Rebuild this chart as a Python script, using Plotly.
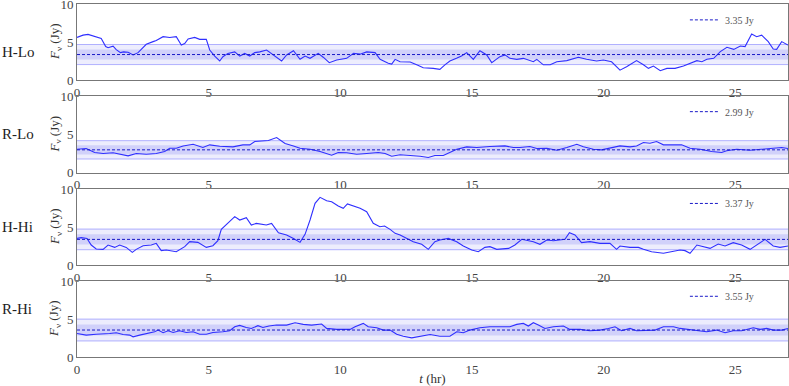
import plotly.graph_objects as go
from plotly.subplots import make_subplots

labels = ["H-Lo", "R-Lo", "H-Hi", "R-Hi"]
means = [3.35, 2.99, 3.37, 3.55]
sigmas = [0.66, 0.60, 0.68, 0.72]

t_hlo = [0, 0.23, 0.42, 0.61, 0.73, 0.92, 1.09, 1.18, 1.37, 1.49, 1.65, 1.77, 1.94, 2.13, 2.32,
         2.63, 2.89, 3.01, 3.27, 3.52, 3.77, 3.96, 4.09, 4.22, 4.47, 4.66, 4.91, 5.04, 5.23, 5.42,
         5.54, 5.73, 5.99, 6.18, 6.37, 6.56, 6.75, 6.94, 7.2, 7.52, 7.77, 7.96, 8.22, 8.47, 8.66,
         8.85, 9.04, 9.16, 9.35, 9.58, 9.86, 10.24, 10.5, 10.75, 11.0, 11.32, 11.51, 11.82, 11.95,
         12.08, 12.27, 12.65, 12.9, 13.15, 13.53, 13.78, 13.97, 14.16, 14.41, 14.6, 14.8, 15.05,
         15.3, 15.56, 15.75, 16.06, 16.25, 16.44, 16.7, 16.95, 17.33, 17.46, 17.71, 17.97, 18.22,
         18.6, 19.04, 19.35, 19.73, 19.99, 20.3, 20.62, 20.87, 21.25, 21.51, 21.7, 21.89, 22.15,
         22.4, 22.71, 23.03, 23.28, 23.54, 23.73, 23.92, 24.18, 24.43, 24.68, 24.94, 25.19, 25.37,
         25.62, 25.81, 26.0, 26.25, 26.44, 26.57, 26.76, 27.0]
f_hlo = [5.6, 5.9, 6.0, 5.8, 5.6, 5.45, 4.4, 4.25, 4.45, 4.0, 3.6, 3.7, 3.65, 3.3, 3.6,
         4.7, 5.05, 5.2, 5.7, 5.6, 5.7, 4.6, 4.8, 5.4, 5.6, 5.35, 5.35, 3.95, 3.15, 2.5,
         3.07, 3.5, 3.7, 3.15, 3.5, 3.15, 3.6, 3.7, 3.95, 3.07, 2.5, 3.3, 3.86, 2.72, 3.15,
         2.85, 3.3, 3.5, 3.0, 2.28, 2.63, 2.85, 3.5, 3.4, 3.7, 3.6, 2.72, 2.2, 2.1,
         2.72, 2.4, 2.37, 2.0, 1.62, 1.53, 1.4, 2.0, 2.5, 2.85, 3.15, 3.6, 2.72,
         3.86, 3.3, 2.28, 3.07, 3.3, 2.85, 2.72, 2.85, 2.4, 2.72, 2.0, 2.0, 2.4,
         2.55, 3.0, 2.72, 2.5, 2.63, 2.4, 1.3, 1.75, 2.55, 2.0, 1.53, 1.84, 1.23,
         1.53, 1.53, 1.84, 2.2, 2.55, 2.4, 2.72, 2.85, 3.73, 4.3, 4.03, 4.47, 4.4,
         6.05, 5.7, 5.9, 5.05, 4.08, 4.03, 5.05, 4.6]

t_rlo = [0, 0.35, 0.67, 0.99, 1.37, 1.68, 1.94, 2.25, 2.63, 3.01, 3.33, 3.52, 3.77, 4.03, 4.41,
         4.78, 5.04, 5.42, 5.92, 6.3, 6.56, 6.75, 7.0, 7.27, 7.58, 7.9, 8.22, 8.47, 8.85, 9.23,
         9.67, 9.92, 10.24, 10.62, 11.0, 11.44, 11.7, 11.95, 12.27, 12.65, 13.03, 13.34, 13.59,
         13.91, 14.16, 14.42, 14.8, 15.18, 15.68, 16.25, 16.57, 16.82, 17.2, 17.46, 17.84, 18.22,
         18.6, 18.98, 19.23, 19.61, 19.92, 20.24, 20.62, 21.0, 21.25, 21.51, 21.76, 22.01, 22.27,
         22.65, 22.96, 23.28, 23.66, 24.1, 24.48, 24.67, 25.05, 25.56, 25.94, 26.44, 26.76, 27.0]
f_rlo = [3.07, 3.16, 2.64, 2.51, 2.6, 2.42, 2.2, 2.51, 2.42, 2.51, 2.77, 3.2, 3.2, 3.5, 3.72,
         3.29, 3.64, 3.46, 3.38, 3.64, 3.64, 4.07, 4.1, 4.2, 4.59, 3.81, 3.5, 3.2, 3.07, 2.77,
         2.29, 2.64, 2.6, 2.42, 2.51, 2.64, 2.51, 2.16, 2.34, 2.29, 2.16, 1.99, 2.25,
         2.25, 2.64, 3.07, 3.38, 3.29, 3.42, 3.5, 3.29, 3.29, 3.42, 3.16, 3.2, 2.94,
         3.29, 3.72, 3.38, 3.07, 2.99, 3.2, 3.5, 3.38, 3.5, 3.94, 3.85, 4.07, 3.64,
         3.64, 3.64, 3.2, 3.07, 2.77, 2.64, 2.86, 3.07, 2.94, 3.07, 3.16, 3.29, 3.16]

t_hhi = [0, 0.16, 0.38, 0.54, 0.73, 0.99, 1.18, 1.43, 1.62, 1.87, 2.1, 2.25, 2.51, 2.82, 3.01,
         3.2, 3.39, 3.58, 3.77, 4.09, 4.28, 4.59, 4.91, 5.16, 5.35, 5.48, 5.8, 5.99, 6.18, 6.43,
         6.62, 6.81, 7.19, 7.39, 7.65, 7.96, 8.22, 8.47, 8.66, 8.85, 9.04, 9.23, 9.48, 9.67, 9.92,
         10.11, 10.27, 10.49, 10.75, 11.0, 11.25, 11.5, 11.68, 11.89, 12.08, 12.27, 12.52, 12.77,
         13.09, 13.34, 13.59, 13.78, 14.1, 14.42, 14.67, 14.99, 15.24, 15.49, 15.68, 15.94, 16.39,
         16.63, 16.89, 17.14, 17.33, 17.58, 17.84, 18.09, 18.34, 18.53, 18.7, 18.91, 19.16, 19.48,
         19.86, 20.24, 20.49, 20.62, 21.0, 21.32, 21.51, 21.82, 22.27, 22.65, 22.9, 23.09, 23.28,
         23.54, 24.04, 24.35, 24.61, 24.92, 25.24, 25.56, 25.81, 26.13, 26.44, 26.7, 27.0]
f_hhi = [3.5, 3.6, 3.5, 2.63, 2.1, 2.06, 2.63, 2.32, 2.63, 2.32, 1.67, 2.06, 2.54, 2.63, 2.85,
         1.89, 1.97, 1.89, 1.75, 2.41, 3.07, 2.98, 2.32, 2.54, 3.2, 4.69, 5.7, 6.36, 5.92, 6.23,
         5.26, 5.48, 5.26, 5.48, 4.25, 3.95, 3.5, 2.98, 4.03, 5.92, 8.11, 8.9, 8.46, 8.33, 7.76,
         7.46, 8.03, 7.76, 7.46, 7.02, 5.48, 5.04, 5.13, 4.69, 4.17, 3.95, 3.5, 3.07,
         2.72, 2.06, 3.07, 3.29, 3.5, 3.07, 2.5, 1.97, 1.75, 2.32, 2.41, 2.06, 2.19,
         2.63, 3.38, 3.2, 3.07, 2.72, 3.29, 3.2, 3.29, 3.38, 4.25, 3.95, 2.94, 3.07,
         2.85, 2.85, 2.06, 2.5, 2.32, 2.32, 2.06, 1.75, 1.54, 1.75, 1.97, 1.89, 1.54,
         2.63, 2.19, 2.76, 2.5, 2.94, 2.63, 2.06, 2.63, 3.38, 2.5, 2.32, 2.5]

t_rhi = [0, 0.35, 0.73, 0.99, 1.24, 1.49, 1.75, 2.0, 2.13, 2.38, 2.7, 2.95, 3.08, 3.27, 3.46,
         3.65, 3.9, 4.15, 4.41, 4.66, 4.91, 5.16, 5.54, 5.8, 5.99, 6.18, 6.43, 6.62, 6.87, 7.06,
         7.29, 7.58, 7.96, 8.28, 8.59, 8.91, 9.29, 9.48, 9.86, 10.37, 10.56, 10.87, 11.06, 11.38,
         11.63, 11.89, 12.14, 12.39, 12.71, 13.03, 13.41, 13.78, 14.16, 14.42, 14.67, 14.92, 15.3,
         15.68, 16.06, 16.44, 16.7, 16.95, 17.14, 17.33, 17.52, 17.77, 18.09, 18.47, 18.72, 19.1,
         19.48, 19.86, 20.18, 20.43, 20.68, 21.0, 21.25, 21.63, 21.95, 22.27, 22.65, 22.9, 23.22,
         23.54, 23.91, 24.29, 24.61, 24.92, 25.24, 25.68, 25.94, 26.19, 26.44, 26.76, 27.0]
f_rhi = [3.1, 2.88, 3.0, 3.1, 3.1, 3.19, 2.96, 2.88, 2.65, 2.88, 3.1, 3.32, 3.54, 3.19, 3.45,
         3.23, 3.45, 3.23, 3.32, 3.0, 3.0, 3.23, 3.32, 3.45, 3.98, 4.16, 3.89, 3.76, 4.12, 3.89,
         4.07, 4.2, 4.2, 4.51, 4.29, 4.2, 4.34, 3.76, 3.63, 3.63, 3.98, 4.42, 3.98, 3.85,
         3.54, 3.54, 3.0, 2.74, 2.52, 2.74, 2.96, 2.74, 2.74, 3.32, 3.19, 3.54, 3.85,
         3.98, 3.98, 3.98, 4.29, 4.42, 4.07, 4.51, 4.2, 3.76, 3.98, 4.07, 3.63, 3.63,
         3.45, 3.54, 3.76, 3.98, 3.45, 3.76, 3.45, 3.54, 3.54, 3.98, 3.98, 3.76, 3.63,
         3.54, 3.32, 3.54, 3.19, 3.45, 3.45, 3.85, 3.63, 3.76, 3.54, 3.54, 3.76]

times = [t_hlo, t_rlo, t_hhi, t_rhi]
fluxes = [f_hlo, f_rlo, f_hhi, f_rhi]

t_span = [0, 27]
x_ticks = [0, 5, 10, 15, 20, 25]
y_ticks = [0, 5, 10]

# panel placement (paper coords)
domains = [(0.7847, 1.0), (0.522, 0.739), (0.2606, 0.4759), (0.0, 0.2153)]
legend_y = [0.955, 0.695, 0.435, 0.172]

serif = "Liberation Serif"
band_edge = "rgba(90,90,255,0.45)"

fig = make_subplots(rows=4, cols=1)

for i in range(4):
    row = i + 1
    m, s = means[i], sigmas[i]
    # 2-sigma band
    fig.add_trace(go.Scatter(x=t_span, y=[m - 2 * s] * 2, mode="lines",
                             line=dict(color=band_edge, width=1),
                             showlegend=False, hoverinfo="skip"), row=row, col=1)
    fig.add_trace(go.Scatter(x=t_span, y=[m + 2 * s] * 2, mode="lines",
                             line=dict(color=band_edge, width=1),
                             fill="tonexty", fillcolor="rgba(110,110,240,0.12)",
                             showlegend=False, hoverinfo="skip"), row=row, col=1)
    # 1-sigma band
    fig.add_trace(go.Scatter(x=t_span, y=[m - s] * 2, mode="lines",
                             line=dict(width=0), showlegend=False,
                             hoverinfo="skip"), row=row, col=1)
    fig.add_trace(go.Scatter(x=t_span, y=[m + s] * 2, mode="lines",
                             line=dict(width=0), fill="tonexty",
                             fillcolor="rgba(110,110,240,0.22)",
                             showlegend=False, hoverinfo="skip"), row=row, col=1)
    # light curve
    fig.add_trace(go.Scatter(x=times[i], y=fluxes[i], mode="lines",
                             line=dict(color="#2f2fff", width=1.1),
                             showlegend=False), row=row, col=1)
    # mean
    leg = "legend" if i == 0 else "legend%d" % row
    fig.add_trace(go.Scatter(x=t_span, y=[m, m], mode="lines",
                             line=dict(color="#1a1ac8", width=1, dash="3px,2px"),
                             name="%.2f Jy" % m, legend=leg), row=row, col=1)

    xa = "xaxis" if i == 0 else "xaxis%d" % row
    ya = "yaxis" if i == 0 else "yaxis%d" % row
    fig.layout[xa].update(domain=[0, 1], range=t_span, tickvals=x_ticks, showgrid=False,
                          zeroline=False, automargin=False,
                          showline=True, mirror=True, linecolor="#777", linewidth=1,
                          ticks="", tickfont=dict(family=serif, size=13, color="#444"))
    fig.layout[ya].update(domain=list(domains[i]), range=[0, 10], tickvals=y_ticks,
                          showgrid=False, zeroline=False, showline=True, mirror=True,
                          automargin=False, ticklabeloverflow="allow",
                          linecolor="#777", linewidth=1, ticks="",
                          tickfont=dict(family=serif, size=13, color="#444"))
    fig.layout[leg] = dict(x=0.855, y=legend_y[i], xanchor="left", yanchor="middle",
                           bgcolor="rgba(0,0,0,0)", borderwidth=0,
                           font=dict(family=serif, size=10, color="#555"))
    mid = (domains[i][0] + domains[i][1]) / 2
    # row label and y-axis title
    fig.add_annotation(text=labels[i], xref="paper", yref="paper", x=-0.1083, xanchor="left",
                       y=mid, showarrow=False,
                       font=dict(family=serif, size=15, color="#222"))
    fig.add_annotation(text="<i>F</i><sub>ν</sub> (Jy)", xref="paper", yref="paper",
                       x=-0.0309, xanchor="center", y=mid, yanchor="middle",
                       textangle=-90, showarrow=False,
                       font=dict(family=serif, size=13, color="#333"))

fig.layout.xaxis4.title = dict(text="<i>t</i> (hr)", standoff=2,
                               font=dict(family=serif, size=13, color="#333"))

fig.update_layout(width=789, height=386, margin=dict(l=77, r=1, t=4, b=29),
                  plot_bgcolor="white", paper_bgcolor="white")

# drop the browser's default page margin so the figure sits at the window's corner
fig.write_html("out.html", config={"displayModeBar": False},
               post_script="document.body.style.margin='0';")
